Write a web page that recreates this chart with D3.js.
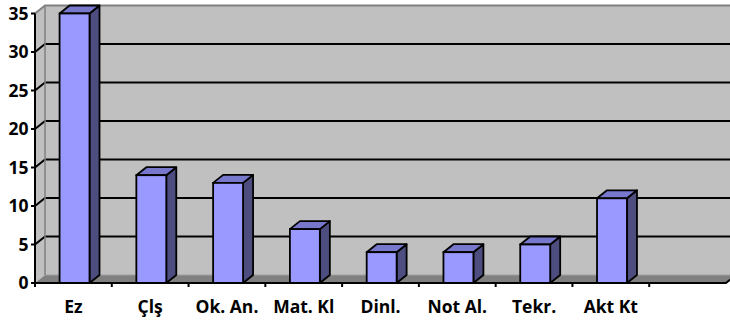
<!DOCTYPE html>
<html><head><meta charset="utf-8">
<script src="https://cdn.jsdelivr.net/npm/d3@7"></script>
<style>body{margin:0;background:#fff}svg{display:block}</style>
</head><body>
<script>
const categories = ["Ez","Çlş","Ok. An.","Mat. Kl","Dinl.","Not Al.","Tekr.","Akt Kt",""];
const values = [35,14,13,7,4,4,5,11,null];
const yTicks = [0,5,10,15,20,25,30,35];

const W = 730, H = 320;
const svg = d3.select("body").append("svg").attr("width",W).attr("height",H);
const x = d3.scaleBand().domain(categories).range([35,726]);
const y = d3.scaleLinear().domain([0,35]).range([283,13.5]);
const dx = 10, dy = -8;
const x0 = x.range()[0], x1 = x.range()[1];
const font = "'Open Sans', sans-serif";
const fs = 17.5;

// side wall
svg.append("path")
  .attr("d",`M${x0},${y(0)}L${x0},${y(35)}L${x0+dx},${y(35)+dy}L${x0+dx},${y(0)+dy}Z`)
  .attr("fill","#c0c0c0");
// back wall
svg.append("rect").attr("x",x0+dx).attr("y",y(35)+dy)
  .attr("width",x1-x0).attr("height",y(0)-y(35))
  .attr("fill","#c0c0c0");
// floor
svg.append("path")
  .attr("d",`M${x0},${y(0)}L${x1},${y(0)}L${x1+dx},${y(0)+dy}L${x0+dx},${y(0)+dy}Z`)
  .attr("fill","#808080");
svg.append("line").attr("x1",x0+dx).attr("x2",x1+dx).attr("y1",y(0)+dy).attr("y2",y(0)+dy)
  .attr("stroke","#a0a0a0").attr("stroke-width",1);

// gridlines
yTicks.filter(t=>t>0 && t<35).forEach(t=>{
  svg.append("path")
    .attr("d",`M${x0},${y(t)}L${x0+dx},${y(t)+dy}L${x1+dx},${y(t)+dy}`)
    .attr("fill","none").attr("stroke","#000").attr("stroke-width",2);
});
// wall borders
svg.append("path")
  .attr("d",`M${x0},${y(35)}L${x0+dx},${y(35)+dy}L${x1+dx},${y(35)+dy}`)
  .attr("fill","none").attr("stroke","#808080").attr("stroke-width",2);
svg.append("line").attr("x1",x0+dx).attr("x2",x0+dx).attr("y1",y(35)+dy).attr("y2",y(0)+dy)
  .attr("stroke","#808080").attr("stroke-width",1.5);

// bars
const bw = x.bandwidth();
const bars = svg.append("g").selectAll("g")
  .data(categories.map((c,i)=>({c,v:values[i]})).filter(d=>d.v!=null))
  .join("g");
bars.each(function(d){
  const g = d3.select(this);
  const bx = x(d.c) + bw*0.32, w = bw*0.39;
  const yt = y(d.v), yb = y(0);
  g.append("path")
    .attr("d",`M${bx+w},${yb}L${bx+w},${yt}L${bx+w+dx},${yt+dy}L${bx+w+dx},${yb+dy}Z`)
    .attr("fill","#4d4d80").attr("stroke","#000").attr("stroke-width",1.8).attr("stroke-linejoin","round");
  g.append("path")
    .attr("d",`M${bx},${yt}L${bx+dx},${yt+dy}L${bx+w+dx},${yt+dy}L${bx+w},${yt}Z`)
    .attr("fill","#7777cc").attr("stroke","#000").attr("stroke-width",1.8).attr("stroke-linejoin","round");
  g.append("rect").attr("x",bx).attr("y",yt).attr("width",w).attr("height",yb-yt)
    .attr("fill","#9999ff").attr("stroke","#000").attr("stroke-width",1.8);
});

// axes
svg.append("line").attr("x1",x0).attr("x2",x0).attr("y1",y(35)).attr("y2",y(0)+4)
  .attr("stroke","#000").attr("stroke-width",2);
svg.append("path").attr("d",`M${x0},${y(0)}L${x1},${y(0)}L${x1+dx},${y(0)+dy}`)
  .attr("fill","none").attr("stroke","#000").attr("stroke-width",2);
yTicks.forEach(t=>{
  svg.append("line").attr("x1",x0-4).attr("x2",x0).attr("y1",y(t)).attr("y2",y(t))
    .attr("stroke","#000").attr("stroke-width",2);
  svg.append("text").attr("x",28.5).attr("y",y(t)).attr("dy","0.36em")
    .attr("text-anchor","end").attr("font-family",font).attr("font-weight","bold")
    .attr("font-size",fs).text(t);
});
categories.forEach((c,i)=>{
  if(i>0) svg.append("line").attr("x1",x(c)).attr("x2",x(c)).attr("y1",y(0)).attr("y2",y(0)+4)
    .attr("stroke","#000").attr("stroke-width",2);
  svg.append("text").attr("x",x(c)+bw/2).attr("y",313.3)
    .attr("text-anchor","middle").attr("font-family",font).attr("font-weight","bold")
    .attr("font-size",fs).text(c);
});
</script>
</body></html>
